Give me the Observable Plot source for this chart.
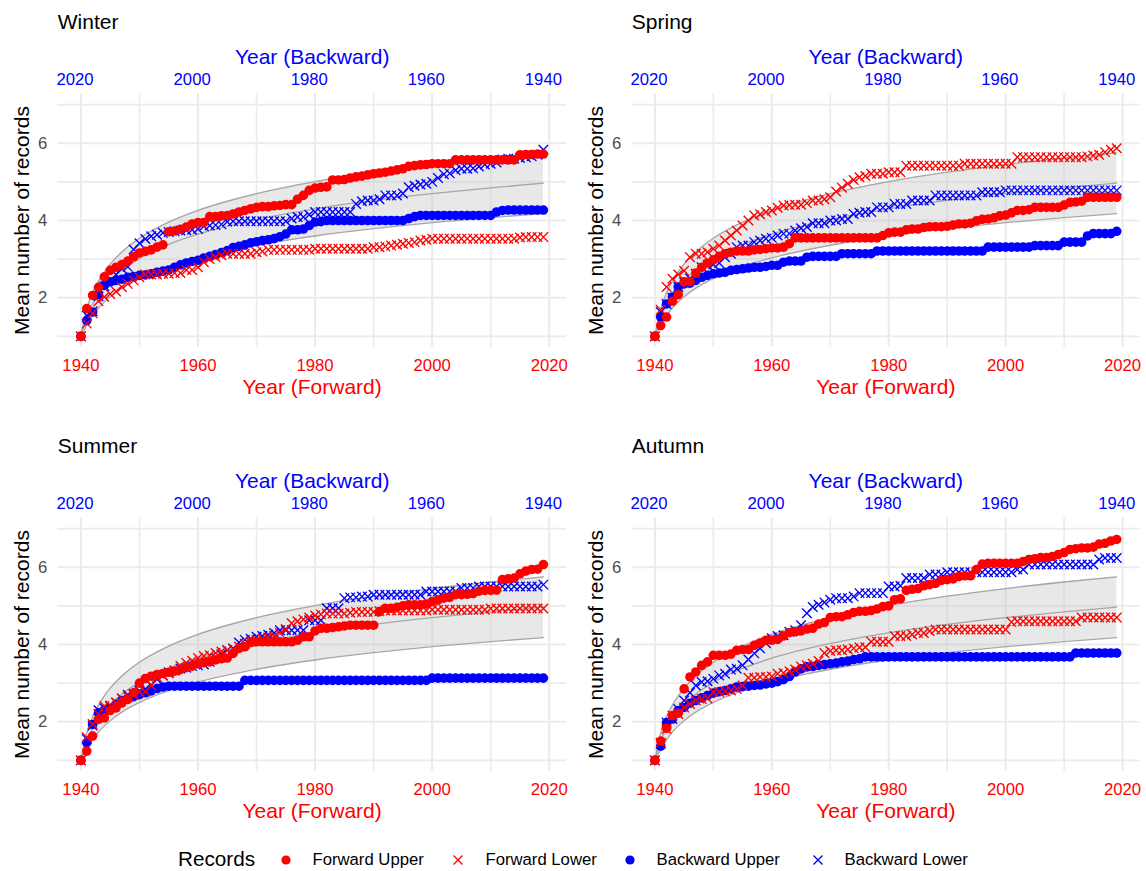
<!DOCTYPE html>
<html>
<head>
<meta charset="utf-8">
<script src="https://cdn.jsdelivr.net/npm/d3@7"></script>
<script src="https://cdn.jsdelivr.net/npm/@observablehq/plot@0.6"></script>
<style>
  body { margin: 0; background: #fff; font-family: "Liberation Sans", Arial, sans-serif; }
  #wrap { position: relative; width: 1146px; height: 871px; overflow: hidden; background: #fff; }
  .panel { position: absolute; }
  .legend { position: absolute; left: 0; top: 848px; width: 1146px; height: 24px; }
  .legend span { position: absolute; white-space: nowrap; line-height: 1; }
  .legend svg { position: absolute; }
</style>
</head>
<body>
<div id="wrap"></div>
<script>
// ---------------- data ----------------
const years = [
  1940,1941,1942,1943,1944,1945,1946,1947,1948,1949,
  1950,1951,1952,1953,1954,1955,1956,1957,1958,1959,
  1960,1961,1962,1963,1964,1965,1966,1967,1968,1969,
  1970,1971,1972,1973,1974,1975,1976,1977,1978,1979,
  1980,1981,1982,1983,1984,1985,1986,1987,1988,1989,
  1990,1991,1992,1993,1994,1995,1996,1997,1998,1999,
  2000,2001,2002,2003,2004,2005,2006,2007,2008,2009,
  2010,2011,2012,2013,2014,2015,2016,2017,2018,2019
];

const seasons = ["Winter", "Spring", "Summer", "Autumn"];
const seriesNames = ["Forward Upper", "Forward Lower", "Backward Upper", "Backward Lower"];

// Winter
const winterForwardUpper = [
  1.00,1.72,2.06,2.27,2.54,2.71,2.79,2.86,2.95,3.06,
  3.16,3.20,3.24,3.31,3.37,3.71,3.73,3.77,3.83,3.91,
  3.95,3.95,4.10,4.10,4.12,4.13,4.17,4.22,4.26,4.30,
  4.34,4.36,4.36,4.38,4.39,4.41,4.41,4.55,4.65,4.78,
  4.84,4.86,4.87,5.05,5.05,5.06,5.10,5.13,5.15,5.18,
  5.21,5.23,5.25,5.28,5.31,5.34,5.40,5.42,5.44,5.45,
  5.47,5.47,5.47,5.47,5.57,5.57,5.57,5.57,5.57,5.57,
  5.57,5.57,5.57,5.57,5.57,5.70,5.71,5.71,5.72,5.72
];
const winterForwardLower = [
  1.00,1.33,1.60,1.91,2.02,2.10,2.16,2.28,2.36,2.45,
  2.53,2.60,2.60,2.60,2.62,2.62,2.64,2.64,2.72,2.72,
  2.79,2.92,3.00,3.05,3.10,3.14,3.14,3.14,3.14,3.14,
  3.18,3.20,3.24,3.24,3.24,3.24,3.24,3.24,3.24,3.24,
  3.27,3.27,3.27,3.27,3.27,3.27,3.27,3.27,3.27,3.27,
  3.31,3.31,3.33,3.35,3.37,3.40,3.42,3.44,3.48,3.50,
  3.53,3.53,3.53,3.53,3.53,3.53,3.53,3.53,3.53,3.53,
  3.53,3.53,3.53,3.53,3.53,3.56,3.57,3.57,3.57,3.57
];
const winterBackwardUpper = [
  1.00,1.41,1.63,2.08,2.32,2.41,2.45,2.48,2.53,2.55,
  2.58,2.59,2.62,2.66,2.69,2.72,2.79,2.85,2.90,2.94,
  2.97,3.03,3.07,3.12,3.17,3.22,3.30,3.33,3.37,3.42,
  3.45,3.48,3.50,3.53,3.58,3.65,3.76,3.76,3.78,3.87,
  3.96,3.97,4.00,4.00,4.00,4.00,4.00,4.00,4.00,4.00,
  4.00,4.00,4.00,4.00,4.00,4.00,4.05,4.10,4.13,4.13,
  4.13,4.13,4.13,4.13,4.13,4.13,4.13,4.13,4.13,4.13,
  4.13,4.22,4.26,4.27,4.27,4.27,4.27,4.27,4.27,4.27
];
const winterBackwardLower = [
  1.00,1.54,1.65,2.04,2.30,2.45,2.60,2.75,2.80,3.25,
  3.41,3.52,3.59,3.63,3.68,3.70,3.72,3.74,3.75,3.76,
  3.78,3.85,3.87,3.88,3.90,3.97,3.98,3.98,3.98,3.98,
  3.98,3.98,3.98,3.98,3.98,3.98,4.05,4.09,4.09,4.15,
  4.22,4.22,4.22,4.22,4.22,4.22,4.22,4.43,4.50,4.52,
  4.52,4.55,4.65,4.65,4.65,4.70,4.86,4.90,4.93,4.95,
  5.00,5.10,5.20,5.22,5.30,5.34,5.34,5.35,5.40,5.45,
  5.47,5.50,5.58,5.60,5.60,5.62,5.64,5.66,5.70,5.83
];

// Spring
const springForwardUpper = [
  1.00,1.28,1.50,1.91,2.08,2.41,2.42,2.64,2.79,2.90,
  2.98,3.07,3.14,3.18,3.21,3.21,3.21,3.24,3.25,3.27,
  3.29,3.29,3.31,3.40,3.55,3.55,3.55,3.55,3.55,3.55,
  3.55,3.55,3.55,3.55,3.55,3.55,3.55,3.55,3.55,3.61,
  3.68,3.70,3.70,3.76,3.78,3.78,3.82,3.84,3.84,3.84,
  3.85,3.88,3.91,3.91,3.93,3.99,4.03,4.04,4.07,4.12,
  4.14,4.20,4.26,4.26,4.28,4.34,4.34,4.34,4.34,4.34,
  4.40,4.47,4.48,4.50,4.60,4.60,4.60,4.60,4.60,4.60
];
const springForwardLower = [
  1.00,1.69,2.28,2.49,2.60,2.70,3.05,3.14,3.14,3.18,
  3.27,3.35,3.48,3.61,3.74,3.87,4.00,4.13,4.16,4.22,
  4.26,4.33,4.39,4.40,4.41,4.41,4.45,4.52,4.52,4.55,
  4.60,4.75,4.85,4.95,5.05,5.12,5.15,5.21,5.21,5.21,
  5.25,5.25,5.25,5.42,5.42,5.42,5.42,5.42,5.42,5.42,
  5.42,5.42,5.42,5.47,5.47,5.47,5.47,5.47,5.47,5.47,
  5.47,5.47,5.64,5.64,5.64,5.64,5.64,5.64,5.64,5.64,
  5.64,5.64,5.64,5.64,5.66,5.68,5.70,5.77,5.83,5.87
];
const springBackwardUpper = [
  1.00,1.50,1.84,2.02,2.28,2.36,2.38,2.45,2.53,2.58,
  2.62,2.64,2.66,2.71,2.73,2.75,2.77,2.79,2.79,2.81,
  2.84,2.84,2.92,2.95,2.95,2.95,3.05,3.07,3.07,3.07,
  3.07,3.07,3.14,3.14,3.14,3.14,3.14,3.14,3.21,3.21,
  3.21,3.21,3.21,3.21,3.21,3.21,3.21,3.21,3.21,3.21,
  3.21,3.21,3.21,3.21,3.21,3.21,3.21,3.31,3.31,3.31,
  3.31,3.31,3.31,3.31,3.31,3.35,3.35,3.35,3.35,3.35,
  3.44,3.44,3.44,3.44,3.60,3.66,3.66,3.66,3.66,3.72
];
const springBackwardLower = [
  1.00,1.63,1.84,2.00,2.28,2.40,2.50,2.62,2.79,2.84,
  2.86,2.90,3.05,3.14,3.31,3.35,3.35,3.44,3.48,3.53,
  3.55,3.61,3.66,3.66,3.74,3.80,3.83,3.93,3.93,3.93,
  4.00,4.00,4.04,4.04,4.17,4.20,4.22,4.22,4.34,4.34,
  4.34,4.43,4.43,4.43,4.52,4.52,4.52,4.52,4.65,4.65,
  4.65,4.65,4.65,4.65,4.65,4.65,4.73,4.73,4.73,4.73,
  4.78,4.78,4.78,4.78,4.78,4.78,4.78,4.78,4.78,4.78,
  4.78,4.78,4.78,4.78,4.78,4.78,4.78,4.78,4.78,4.78
];

// Summer
const summerForwardUpper = [
  1.00,1.24,1.63,2.06,2.10,2.29,2.36,2.49,2.58,2.75,
  3.00,3.12,3.18,3.22,3.25,3.28,3.31,3.35,3.40,3.44,
  3.50,3.53,3.55,3.60,3.63,3.65,3.77,3.90,3.94,4.05,
  4.07,4.07,4.07,4.07,4.07,4.07,4.07,4.11,4.20,4.20,
  4.35,4.42,4.42,4.44,4.46,4.48,4.50,4.50,4.50,4.50,
  4.50,4.85,4.94,4.94,4.96,5.00,5.03,5.03,5.03,5.05,
  5.11,5.15,5.20,5.22,5.29,5.29,5.30,5.32,5.38,5.40,
  5.40,5.41,5.68,5.70,5.72,5.83,5.90,5.94,5.95,6.07
];
const summerForwardLower = [
  1.00,1.60,1.94,2.20,2.41,2.42,2.50,2.60,2.65,2.70,
  2.77,2.78,2.94,3.15,3.20,3.25,3.32,3.45,3.52,3.58,
  3.65,3.70,3.72,3.78,3.82,3.85,3.88,3.95,4.02,4.08,
  4.12,4.15,4.18,4.22,4.30,4.40,4.55,4.60,4.65,4.70,
  4.75,4.78,4.80,4.80,4.80,4.80,4.82,4.84,4.84,4.84,
  4.84,4.86,4.88,4.88,4.88,4.88,4.88,4.88,4.88,4.88,
  4.90,4.90,4.90,4.90,4.90,4.90,4.90,4.90,4.90,4.90,
  4.93,4.93,4.93,4.93,4.93,4.93,4.93,4.93,4.93,4.93
];
const summerBackwardUpper = [
  1.00,1.46,1.93,2.23,2.27,2.35,2.45,2.55,2.60,2.65,
  2.70,2.75,2.80,2.86,2.90,2.92,2.92,2.92,2.92,2.92,
  2.92,2.92,2.92,2.92,2.92,2.92,2.92,2.92,3.07,3.07,
  3.07,3.07,3.07,3.07,3.07,3.07,3.07,3.07,3.07,3.07,
  3.07,3.07,3.07,3.07,3.07,3.07,3.07,3.07,3.07,3.07,
  3.07,3.07,3.07,3.07,3.07,3.07,3.07,3.07,3.07,3.07,
  3.13,3.13,3.13,3.13,3.13,3.13,3.13,3.13,3.13,3.13,
  3.13,3.13,3.13,3.13,3.13,3.13,3.13,3.13,3.13,3.13
];
const summerBackwardLower = [
  1.00,1.55,1.90,2.30,2.35,2.40,2.50,2.60,2.70,2.72,
  2.80,2.85,2.95,3.10,3.20,3.28,3.33,3.38,3.40,3.44,
  3.46,3.48,3.55,3.65,3.75,3.85,3.90,4.05,4.12,4.15,
  4.20,4.22,4.25,4.30,4.37,4.37,4.37,4.37,4.37,4.63,
  4.63,4.63,4.94,4.94,4.94,5.20,5.22,5.22,5.24,5.24,
  5.29,5.29,5.29,5.29,5.29,5.29,5.29,5.29,5.29,5.37,
  5.37,5.37,5.37,5.37,5.37,5.46,5.46,5.46,5.50,5.50,
  5.50,5.50,5.50,5.50,5.50,5.50,5.50,5.50,5.50,5.55
];

// Autumn
const autumnForwardUpper = [
  1.00,1.50,1.83,2.16,2.22,2.85,3.16,3.29,3.46,3.55,
  3.72,3.72,3.72,3.75,3.85,3.87,3.87,3.98,4.04,4.11,
  4.11,4.13,4.22,4.31,4.33,4.35,4.40,4.42,4.53,4.57,
  4.70,4.72,4.72,4.77,4.83,4.86,4.86,4.88,4.92,4.98,
  5.00,5.16,5.18,5.40,5.43,5.45,5.52,5.55,5.58,5.66,
  5.68,5.70,5.76,5.78,5.78,5.94,6.08,6.10,6.10,6.10,
  6.10,6.10,6.10,6.15,6.20,6.22,6.25,6.25,6.28,6.33,
  6.38,6.46,6.48,6.50,6.50,6.52,6.60,6.62,6.68,6.72
];
const autumnForwardLower = [
  1.00,1.46,1.81,2.16,2.20,2.37,2.46,2.55,2.59,2.60,
  2.77,2.77,2.79,2.81,2.85,2.94,3.14,3.14,3.16,3.16,
  3.17,3.24,3.26,3.31,3.35,3.43,3.46,3.50,3.57,3.78,
  3.83,3.85,3.85,3.87,3.90,3.92,3.93,4.07,4.07,4.07,
  4.07,4.22,4.22,4.22,4.26,4.30,4.30,4.35,4.39,4.39,
  4.39,4.39,4.39,4.39,4.39,4.39,4.39,4.39,4.39,4.39,
  4.39,4.58,4.60,4.60,4.60,4.60,4.60,4.60,4.60,4.60,
  4.60,4.60,4.60,4.70,4.70,4.70,4.70,4.70,4.70,4.70
];
const autumnBackwardUpper = [
  1.00,1.37,1.98,2.07,2.29,2.37,2.48,2.55,2.62,2.68,
  2.74,2.78,2.81,2.85,2.90,2.91,2.92,2.94,2.95,2.98,
  3.00,3.04,3.09,3.17,3.29,3.37,3.42,3.43,3.46,3.48,
  3.50,3.52,3.55,3.57,3.61,3.63,3.68,3.68,3.68,3.68,
  3.68,3.68,3.68,3.68,3.68,3.68,3.68,3.68,3.68,3.68,
  3.68,3.68,3.68,3.68,3.68,3.68,3.68,3.68,3.68,3.68,
  3.68,3.68,3.68,3.68,3.68,3.68,3.68,3.68,3.68,3.68,
  3.68,3.68,3.78,3.78,3.78,3.78,3.78,3.78,3.78,3.78
];
const autumnBackwardLower = [
  1.00,1.43,1.98,2.07,2.33,2.55,2.75,2.94,3.03,3.05,
  3.11,3.20,3.24,3.35,3.37,3.46,3.61,3.77,3.90,4.03,
  4.16,4.22,4.24,4.33,4.37,4.50,4.81,4.97,5.03,5.09,
  5.16,5.20,5.20,5.20,5.24,5.33,5.33,5.33,5.33,5.33,
  5.50,5.50,5.52,5.72,5.72,5.72,5.72,5.81,5.81,5.81,
  5.87,5.87,5.87,5.87,5.87,5.87,5.87,5.87,5.87,5.87,
  5.87,5.87,5.94,5.94,6.07,6.07,6.07,6.07,6.07,6.07,
  6.07,6.07,6.07,6.07,6.07,6.07,6.20,6.24,6.24,6.24
];

// Reference band (expected number of records with its envelope), read at selected years
const bandYears = [1940,1941,1942,1943,1944,1945,1947,1950,1955,1960,1970,1980,1990,2000,2010,2019];
const bandMid   = [1.000,1.500,1.833,2.083,2.283,2.450,2.718,3.020,3.381,3.645,4.027,4.303,4.519,4.696,4.847,4.966];
const bandLow   = [1.000,1.285,1.537,1.734,1.894,2.029,2.249,2.500,2.805,3.030,3.359,3.599,3.788,3.943,4.076,4.180];
const bandHigh  = [1.000,1.715,2.129,2.432,2.672,2.871,3.187,3.540,3.957,4.260,4.695,5.007,5.250,5.449,5.618,5.751];

const forwardTicks = [1940, 1960, 1980, 2000, 2020];
const backwardTicks = [2020, 2000, 1980, 1960, 1940];
const yTicks = [2, 4, 6];

// ---------------- build ----------------
const seasonSeries = {
  Winter: [winterForwardUpper, winterForwardLower, winterBackwardUpper, winterBackwardLower],
  Spring: [springForwardUpper, springForwardLower, springBackwardUpper, springBackwardLower],
  Summer: [summerForwardUpper, summerForwardLower, summerBackwardUpper, summerBackwardLower],
  Autumn: [autumnForwardUpper, autumnForwardLower, autumnBackwardUpper, autumnBackwardLower]
};
const band = bandYears.map((y, i) => ({year: y, mid: bandMid[i], low: bandLow[i], high: bandHigh[i]}));
// backward year b sits at forward year (firstYear + lastYear) - b
const yearSum = years[0] + years[years.length - 1];

const FONT = '"Liberation Sans", Arial, Helvetica, sans-serif';
const GRID = "#ebebeb";
const BANDLINE = "#a6a6a6";

const layout = [
  {season: "Winter", left: 0,   top: 0,   ml: 57.3, mr: 7},
  {season: "Spring", left: 573, top: 0,   ml: 58.3, mr: 6.7},
  {season: "Summer", left: 0,   top: 424, ml: 57.3, mr: 7},
  {season: "Autumn", left: 573, top: 424, ml: 58.3, mr: 6.7}
];

const wrap = document.getElementById("wrap");

for (const p of layout) {
  const arrs = seasonSeries[p.season];
  const toRows = (arr) => arr.map((v, i) => ({year: years[i], value: v}));
  const [fu, fl, bu, bl] = arrs.map(toRows);

  const chart = Plot.plot({
    width: 573,
    height: 420,
    marginTop: 93.3,
    marginBottom: 73.3,
    marginLeft: p.ml,
    marginRight: p.mr,
    x: {domain: [1936.05, 2022.95]},
    y: {domain: [0.72, 7.28]},
    style: {fontFamily: FONT, fontSize: "16.7px", background: "transparent", overflow: "visible"},
    marks: [
      // grid
      Plot.ruleX([1950, 1970, 1990, 2010], {stroke: GRID, strokeWidth: 1.6}),
      Plot.ruleY([1, 3, 5, 7], {stroke: GRID, strokeWidth: 1.6}),
      Plot.ruleX(forwardTicks, {stroke: GRID, strokeWidth: 2.1}),
      Plot.ruleY(yTicks, {stroke: GRID, strokeWidth: 2.1}),
      // reference band
      Plot.areaY(band, {x: "year", y1: "low", y2: "high", fill: "#bebebe", fillOpacity: 0.35, curve: "monotone-x"}),
      Plot.line(band, {x: "year", y: "low", stroke: BANDLINE, strokeWidth: 1.3, curve: "monotone-x"}),
      Plot.line(band, {x: "year", y: "high", stroke: BANDLINE, strokeWidth: 1.3, curve: "monotone-x"}),
      Plot.line(band, {x: "year", y: "mid", stroke: BANDLINE, strokeWidth: 1.3, curve: "monotone-x"}),
      // series
      Plot.dot(bl, {x: "year", y: "value", symbol: "times", stroke: "blue", r: 4.4, strokeWidth: 1.35}),
      Plot.dot(bu, {x: "year", y: "value", fill: "blue", r: 4.8}),
      Plot.dot(fl, {x: "year", y: "value", symbol: "times", stroke: "red", r: 4.4, strokeWidth: 1.35}),
      Plot.dot(fu, {x: "year", y: "value", fill: "red", r: 4.8}),
      // axes
      Plot.axisX({anchor: "bottom", ticks: forwardTicks, tickFormat: d => String(d), tickSize: 0, tickPadding: 12,
                  color: "red", label: null}),
      Plot.axisX({anchor: "top", ticks: backwardTicks.map(b => yearSum - b), tickFormat: d => String(yearSum - d),
                  tickSize: 0, tickPadding: 9, color: "blue", label: null}),
      Plot.axisY({anchor: "left", ticks: yTicks, tickFormat: d => String(d), tickSize: 0, tickPadding: 10.5,
                  color: "#4d4d4d", label: null}),
      // titles
      Plot.text([p.season], {text: d => d, frameAnchor: "top-left", textAnchor: "start", lineAnchor: "middle",
                             dy: -71.7, fontSize: 21, fill: "black"}),
      Plot.text(["Year (Backward)"], {text: d => d, frameAnchor: "top", textAnchor: "middle", lineAnchor: "middle",
                                      dy: -37, fontSize: 21, fill: "blue"}),
      Plot.text(["Year (Forward)"], {text: d => d, frameAnchor: "bottom", textAnchor: "middle", lineAnchor: "middle",
                                     dy: 39.8, fontSize: 21, fill: "red"}),
      Plot.text(["Mean number of records"], {text: d => d, frameAnchor: "left", textAnchor: "middle", lineAnchor: "middle",
                                             rotate: -90, dx: -36, fontSize: 21, fill: "black"})
    ]
  });
  const div = document.createElement("div");
  div.className = "panel";
  div.style.left = p.left + "px";
  div.style.top = p.top + "px";
  div.appendChild(chart);
  wrap.appendChild(div);
}

// ---------------- legend ----------------
const legend = document.createElement("div");
legend.className = "legend";
const legendItems = [
  {name: seriesNames[0], color: "red",  shape: "dot",   sx: 286, tx: 312.5},
  {name: seriesNames[1], color: "red",  shape: "times", sx: 458, tx: 485.5},
  {name: seriesNames[2], color: "blue", shape: "dot",   sx: 630, tx: 656.5},
  {name: seriesNames[3], color: "blue", shape: "times", sx: 818, tx: 844.5}
];
let html = `<span style="left:178px;top:1px;font-size:20.7px;color:#000;">Records</span>`;
for (const it of legendItems) {
  const sym = it.shape === "dot"
    ? `<circle cx="8" cy="8" r="4.6" fill="${it.color}"/>`
    : `<path d="M3.5,3.5L12.5,12.5M3.5,12.5L12.5,3.5" stroke="${it.color}" stroke-width="1.4" fill="none"/>`;
  html += `<svg width="16" height="16" style="left:${it.sx - 8}px;top:4px;">${sym}</svg>`;
  html += `<span style="left:${it.tx}px;top:4px;font-size:16.7px;color:#000;">${it.name}</span>`;
}
legend.innerHTML = html;
wrap.appendChild(legend);
</script>
</body>
</html>
